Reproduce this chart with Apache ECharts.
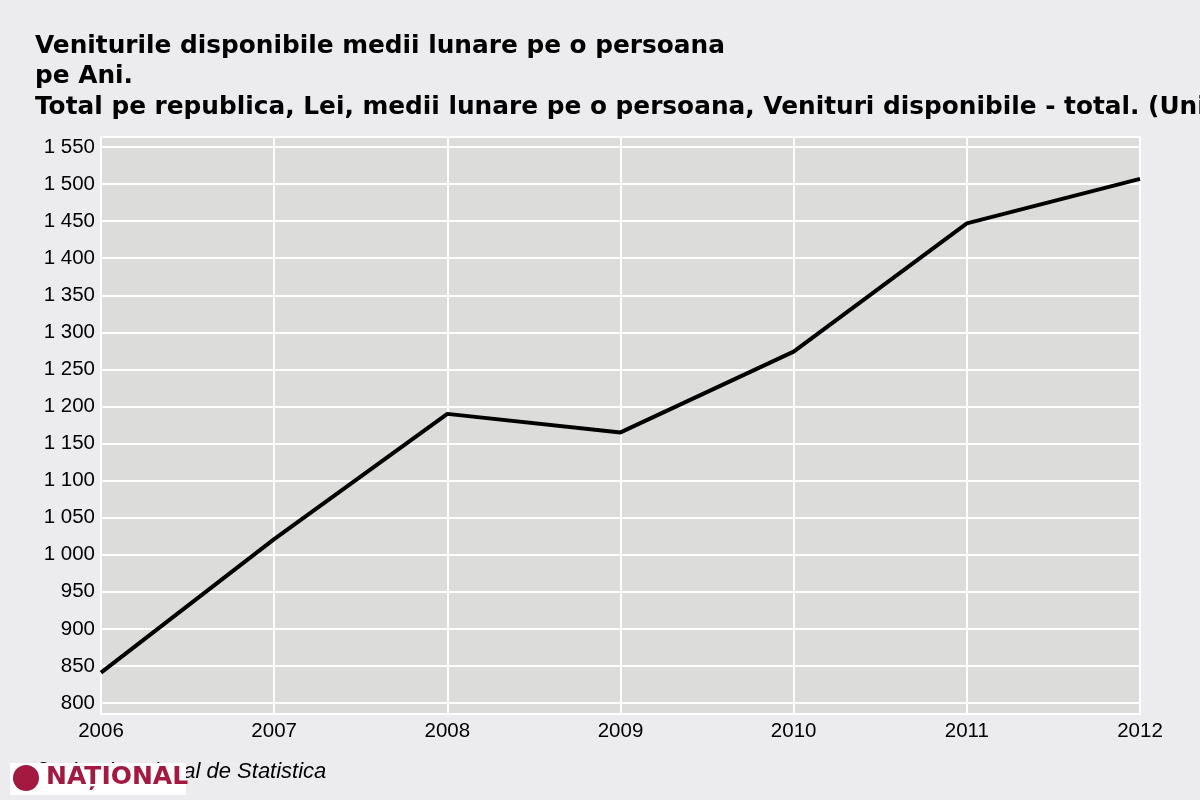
<!DOCTYPE html>
<html>
<head>
<meta charset="utf-8">
<script src="https://cdn.jsdelivr.net/npm/echarts@6/dist/echarts.min.js"></script>
<style>
html,body{margin:0;padding:0;background:#ecebee;}
#chart{width:1200px;height:800px;}
</style>
</head>
<body>
<div id="chart"></div>
<script>
const titleLines = [
  'Veniturile disponibile medii lunare pe o persoana',
  'pe Ani.',
  'Total pe republica, Lei, medii lunare pe o persoana, Venituri disponibile - total. (Unitati)'
];
const years = ['2006', '2007', '2008', '2009', '2010', '2011', '2012'];
const incomeValues = [841, 1021, 1190, 1165, 1274, 1447, 1507];
const yMin = 800;
const yMax = 1550;
const yStep = 50;
const sourceText = '\u00A9 Biroul National de Statistica';
const logoText = 'NAȚIONAL';

function fmt(v) {
  if (v >= 1000) {
    return Math.floor(v / 1000) + ' ' + String(v % 1000).padStart(3, '0');
  }
  return String(v);
}

const chart = echarts.init(document.getElementById('chart'));
chart.setOption({
  backgroundColor: '#ecebee',
  animation: false,
  title: {
    text: titleLines.join('\n'),
    left: 30,
    top: 26,
    textStyle: {
      fontFamily: 'DejaVu Sans',
      fontWeight: 'bold',
      fontSize: 24.8,
      lineHeight: 30.5,
      color: '#000'
    }
  },
  grid: [
    { left: 101, right: 60, top: 137, bottom: 86, show: true, backgroundColor: '#dcdddb', borderColor: '#ffffff', borderWidth: 2 },
    { left: 101, right: 60, top: 147, bottom: 97 }
  ],
  xAxis: [
    {
      gridIndex: 0, type: 'category', data: years, boundaryGap: false,
      axisLine: { show: false }, axisTick: { show: false },
      splitLine: { show: true, lineStyle: { color: '#ffffff', width: 2 } },
      axisLabel: { color: '#000', fontSize: 20.5, fontFamily: 'Liberation Sans', margin: 7 }
    },
    {
      gridIndex: 1, type: 'category', data: years, boundaryGap: false, show: false
    }
  ],
  yAxis: [
    { gridIndex: 0, type: 'value', min: 0, max: 1, show: false },
    {
      gridIndex: 1, type: 'value', min: yMin, max: yMax, interval: yStep,
      axisLine: { show: false }, axisTick: { show: false },
      splitLine: { show: true, lineStyle: { color: '#ffffff', width: 2 } },
      axisLabel: { color: '#000', fontSize: 20.5, fontFamily: 'Liberation Sans', margin: 6, formatter: fmt }
    }
  ],
  series: [
    {
      type: 'line', xAxisIndex: 1, yAxisIndex: 1, data: incomeValues,
      symbol: 'none', lineStyle: { color: '#000', width: 4 }, itemStyle: { color: '#000' }
    }
  ],
  graphic: [
    {
      type: 'text', left: 35, top: 761,
      style: { text: sourceText, fontFamily: 'Liberation Sans', fontStyle: 'italic', fontSize: 22, fill: '#000' }
    },
    {
      type: 'group', left: 10, top: 763,
      children: [
        { type: 'rect', shape: { x: 0, y: 0, width: 176, height: 32 }, style: { fill: '#ffffff' } },
        { type: 'circle', shape: { cx: 16, cy: 15, r: 13 }, style: { fill: '#a3193f' } },
        { type: 'text', style: { text: logoText, x: 36, y: 2, fontFamily: 'DejaVu Sans', fontWeight: 'bold', fontSize: 25, fill: '#a3193f' } }
      ]
    }
  ]
});
</script>
</body>
</html>
